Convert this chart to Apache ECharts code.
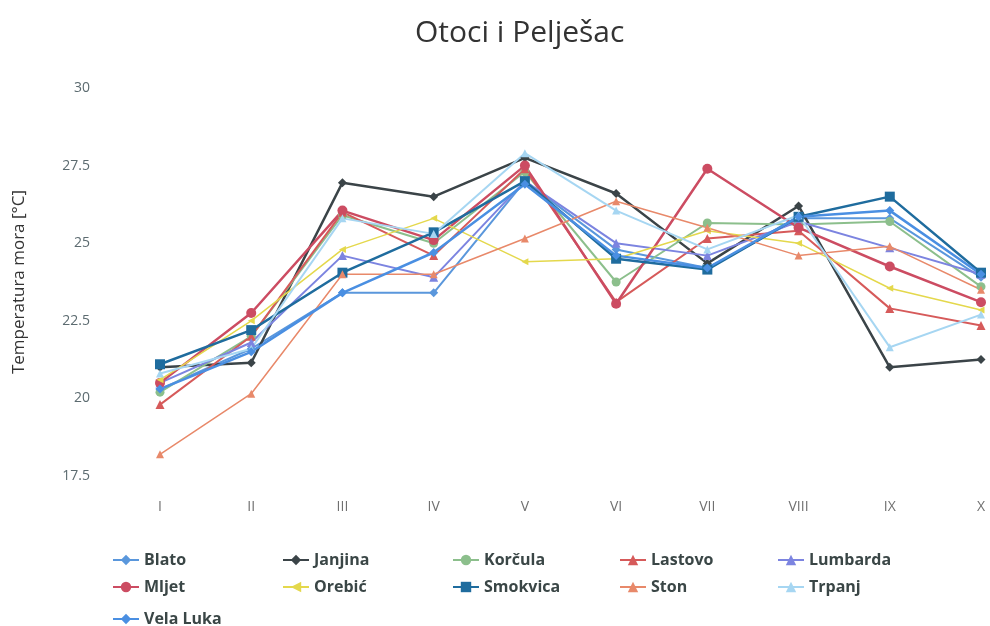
<!DOCTYPE html>
<html>
<head>
<meta charset="utf-8">
<script src="https://cdn.jsdelivr.net/npm/echarts@6/dist/echarts.min.js"></script>
<style>
  html, body { margin: 0; padding: 0; background: #fff; }
  #chart { width: 990px; height: 626px; }
</style>
</head>
<body>
<div id="chart"></div>
<script>
// mjeseci
const months = ['I', 'II', 'III', 'IV', 'V', 'VI', 'VII', 'VIII', 'IX', 'X']

// temperatura mora po lokaciji [°C]
const blato = [20.3, 21.6, 23.4, 23.4, 27.0, 24.8, 24.2, 25.8, 25.8, 23.9]
const janjina = [21.0, 21.15, 26.95, 26.5, 27.75, 26.6, 24.35, 26.2, 21.0, 21.25]
const korcula = [20.2, 22.0, 25.9, 25.0, 27.3, 23.75, 25.65, 25.6, 25.7, 23.6]
const lastovo = [19.8, 22.0, 26.0, 24.6, 27.4, 23.1, 25.15, 25.4, 22.9, 22.35]
const lumbarda = [20.5, 21.8, 24.6, 23.9, 27.0, 25.0, 24.6, 25.7, 24.85, 24.0]
const mljet = [20.5, 22.75, 26.05, 25.1, 27.5, 23.05, 27.4, 25.5, 24.25, 23.1]
const orebic = [20.6, 22.5, 24.8, 25.8, 24.4, 24.5, 25.4, 25.0, 23.55, 22.85]
const smokvica = [21.1, 22.2, 24.05, 25.35, 27.0, 24.5, 24.15, 25.85, 26.5, 24.05]
const ston = [18.2, 20.15, 24.0, 24.0, 25.15, 26.35, 25.5, 24.6, 24.9, 23.5]
const trpanj = [20.8, 21.6, 25.8, 25.3, 27.9, 26.05, 24.8, 25.9, 21.65, 22.7]
const velaLuka = [20.3, 21.5, 23.4, 24.7, 26.9, 24.6, 24.2, 25.85, 26.05, 24.0]

const yTicks = [17.5, 20, 22.5, 25, 27.5, 30]

// legenda po stupcima
const legendColumns = [
  ['Blato', 'Mljet'],
  ['Janjina', 'Orebić'],
  ['Korčula', 'Smokvica'],
  ['Lastovo', 'Ston'],
  ['Lumbarda', 'Trpanj'],
  ['Vela Luka']
]
const legendLeft = [107, 277, 447, 614, 772, 107]
const legendTop = [547, 547, 547, 547, 547, 606]

const seriesDefs = [
  { name: 'Blato', data: blato, color: '#5a97dc', symbol: 'diamond', size: 9, width: 2 },
  { name: 'Janjina', data: janjina, color: '#3b4448', symbol: 'diamond', size: 9, width: 2.5 },
  { name: 'Korčula', data: korcula, color: '#8cbf8c', symbol: 'circle', size: 9, width: 2 },
  { name: 'Lastovo', data: lastovo, color: '#d65a5a', symbol: 'triangle', size: 9, width: 2 },
  { name: 'Lumbarda', data: lumbarda, color: '#7c84e0', symbol: 'triangle', size: 9, width: 2 },
  { name: 'Mljet', data: mljet, color: '#cc4c62', symbol: 'circle', size: 10, width: 2.5 },
  { name: 'Orebić', data: orebic, color: '#e4d84c', symbol: 'triangle', size: 7, width: 1.5, rotate: 90 },
  { name: 'Smokvica', data: smokvica, color: '#1f6c9e', symbol: 'rect', size: 10, width: 2.5 },
  { name: 'Ston', data: ston, color: '#e8896a', symbol: 'triangle', size: 8, width: 1.5 },
  { name: 'Trpanj', data: trpanj, color: '#a6d6f2', symbol: 'triangle', size: 8, width: 2 },
  { name: 'Vela Luka', data: velaLuka, color: '#4a8fe2', symbol: 'diamond', size: 9, width: 2.5 }
]

const chart = echarts.init(document.getElementById('chart'))

chart.setOption({
  animation: false,
  backgroundColor: '#fff',
  title: {
    text: 'Otoci i Pelješac',
    left: 410,
    top: 13,
    textStyle: { fontFamily: 'Open Sans', fontSize: 30, fontWeight: 'normal', color: '#333' }
  },
  legend: legendColumns.map((names, i) => ({
    orient: 'vertical',
    left: legendLeft[i],
    top: legendTop[i],
    itemGap: 11,
    itemWidth: 26,
    itemHeight: 13,
    textStyle: {
      fontFamily: 'Open Sans',
      fontSize: 16,
      fontWeight: 'bold',
      color: '#3a4646'
    },
    data: names
  })),
  grid: {
    left: 160,
    right: 9,
    top: 88,
    bottom: 150,
    containLabel: false
  },
  xAxis: {
    type: 'category',
    boundaryGap: false,
    data: months,
    axisLine: { show: false },
    axisTick: { show: false },
    splitLine: { show: false },
    axisLabel: { margin: 24, fontFamily: 'Open Sans', fontSize: 14, color: '#707070' }
  },
  yAxis: {
    type: 'value',
    min: yTicks[0],
    max: yTicks[yTicks.length - 1],
    interval: 2.5,
    name: 'Temperatura mora [°C]',
    nameLocation: 'middle',
    nameGap: 132,
    nameTextStyle: { fontFamily: 'Open Sans', fontSize: 17, color: '#333' },
    axisLine: { show: false },
    axisTick: { show: false },
    splitLine: { show: false },
    axisLabel: { margin: 70, fontFamily: 'Open Sans', fontSize: 14, color: '#5c6b70' }
  },
  series: seriesDefs.map(s => ({
    name: s.name,
    type: 'line',
    data: s.data,
    symbol: s.symbol,
    symbolSize: s.size,
    symbolRotate: s.rotate || 0,
    color: s.color,
    lineStyle: { width: s.width, color: s.color },
    itemStyle: { color: s.color }
  }))
})

window.addEventListener('resize', () => chart.resize())
</script>
</body>
</html>
